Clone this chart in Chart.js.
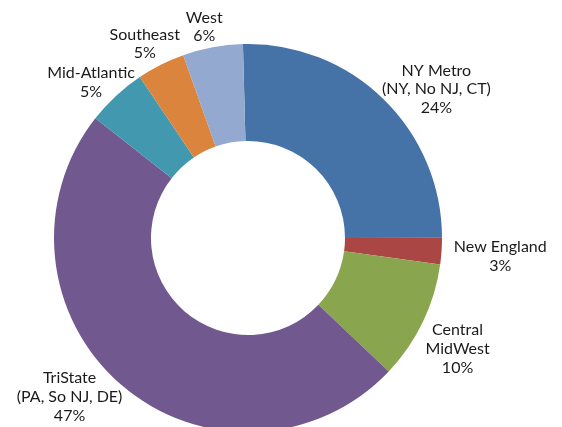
<!DOCTYPE html>
<html>
<head>
<meta charset="utf-8">
<script src="https://cdn.jsdelivr.net/npm/chart.js@4"></script>
<style>
  html, body { margin: 0; padding: 0; background: #fff; overflow: hidden; }
  #wrap { width: 562px; height: 427px; overflow: hidden; }
</style>
</head>
<body>
<div id="wrap"><canvas id="chart" width="562" height="476"></canvas></div>
<script>
// Доли регионов (сектора читаются по углам на картинке) и подписи как на оригинале.
const regions = ['NY Metro', 'New England', 'Central MidWest', 'TriState', 'Mid-Atlantic', 'Southeast', 'West'];
const labelLines = [
  ['NY Metro', '(NY, No NJ, CT)'],
  ['New England'],
  ['Central', 'MidWest'],
  ['TriState', '(PA, So NJ, DE)'],
  ['Mid-Atlantic'],
  ['Southeast'],
  ['West'],
];
const shares = [25.4, 2.2, 9.9, 48.5, 5.0, 4.0, 5.0];
const pctLabels = ['24%', '3%', '10%', '47%', '5%', '5%', '6%'];
const colors = ['#4572a7', '#aa4643', '#89a54e', '#71588f', '#4198af', '#db843d', '#93a9cf'];

// Положение подписи: множитель внешнего радиуса и сдвиг угла (градусы) от середины сектора.
const labelPlace = [
  { k: 1.237, shift: 7.5 },
  { k: 1.304, shift: 0.3 },
  { k: 1.222, shift: 2.2 },
  { k: 1.232, shift: 7.5 },
  { k: 1.138, shift: -2.4 },
  { k: 1.134, shift: -1.3 },
  { k: 1.112, shift: -1.2 },
];

const FONT = '16px Lato, "Open Sans", sans-serif';
const LINE_H = 18.8;

// Подписи снаружи сектора: название + процент, по центру блока.
const outsideLabels = {
  id: 'outsideLabels',
  afterDatasetsDraw(chart) {
    const ctx = chart.ctx;
    const arcs = chart.getDatasetMeta(0).data;
    ctx.save();
    ctx.font = FONT;
    ctx.fillStyle = '#1a1a1a';
    ctx.textAlign = 'center';
    ctx.textBaseline = 'middle';
    arcs.forEach((arc, i) => {
      const p = arc.getProps(['x', 'y', 'startAngle', 'endAngle', 'outerRadius'], true);
      const mid = (p.startAngle + p.endAngle) / 2 + labelPlace[i].shift * Math.PI / 180;
      const r = p.outerRadius * labelPlace[i].k;
      const cx = p.x + Math.cos(mid) * r;
      const cy = p.y + Math.sin(mid) * r;
      const lines = [...labelLines[i], pctLabels[i]];
      const top = cy - (lines.length - 1) * LINE_H / 2;
      lines.forEach((t, j) => ctx.fillText(t, cx, top + j * LINE_H));
    });
    ctx.restore();
  },
};

new Chart(document.getElementById('chart'), {
  type: 'doughnut',
  data: {
    labels: regions,
    datasets: [{
      data: shares,
      backgroundColor: colors,
      borderWidth: 0,
      hoverOffset: 0,
    }],
  },
  options: {
    responsive: false,
    animation: false,
    devicePixelRatio: 1,
    rotation: -1.5,
    cutout: '50%',
    layout: { padding: { left: 54, right: 120, top: 44, bottom: 44 } },
    plugins: {
      legend: { display: false },
      tooltip: { enabled: false },
    },
  },
  plugins: [outsideLabels],
});
</script>
</body>
</html>
